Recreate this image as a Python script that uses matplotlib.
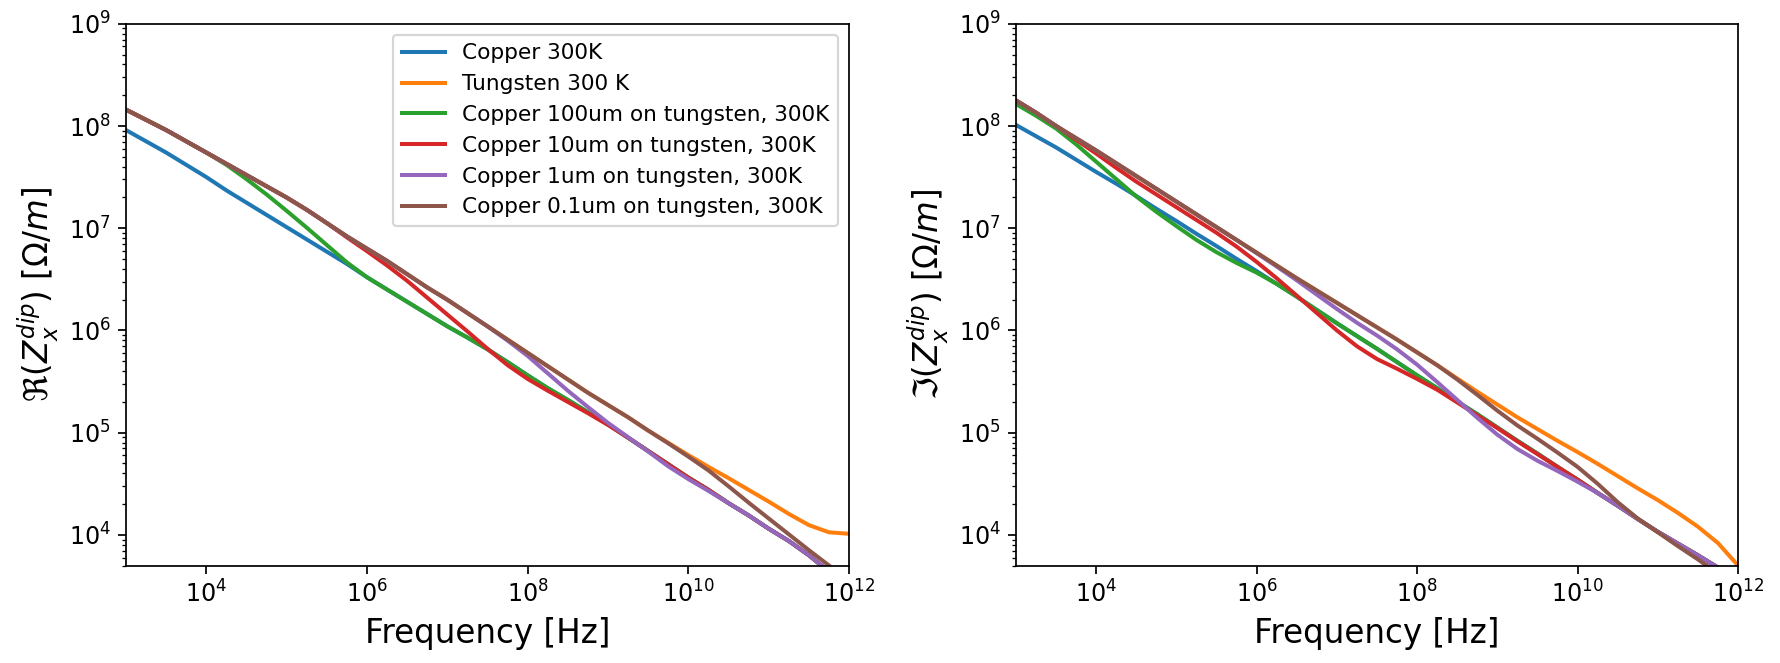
import numpy as np
import matplotlib
matplotlib.use("Agg")
import matplotlib.pyplot as plt
from matplotlib.ticker import NullLocator, FixedLocator

nan = np.nan

# frequency grid, log10(Hz)
freq_log10 = [3.00, 3.25, 3.50, 3.75, 4.00, 4.25, 4.50, 4.75, 5.00, 5.25,
              5.50, 5.75, 6.00, 6.25, 6.50, 6.75, 7.00, 7.25, 7.50, 7.75,
              8.00, 8.25, 8.50, 8.75, 9.00, 9.25, 9.50, 9.75, 10.00, 10.25,
              10.50, 10.75, 11.00, 11.25, 11.50, 11.75, 12.00]

labels = ["Copper 300K", "Tungsten 300 K", "Copper 100um on tungsten, 300K",
          "Copper 10um on tungsten, 300K", "Copper 1um on tungsten, 300K",
          "Copper 0.1um on tungsten, 300K"]

# ---- Real part, log10(Ohm/m) ----
re_cu = [7.96, 7.85, 7.74, 7.62, 7.50, 7.37, 7.25, 7.13, 7.01, 6.89,
         6.77, 6.65, 6.52, 6.40, 6.28, 6.16, 6.04, 5.93, 5.815, 5.69,
         5.56, 5.435, 5.32, 5.20, 5.08, 4.95, 4.82, 4.69, 4.56, 4.44,
         4.31, 4.19, 4.06, 3.94, 3.80, 3.64, nan]
re_w = [8.16, 8.06, 7.96, 7.85, 7.74, 7.63, 7.52, 7.41, 7.30, 7.18,
        7.05, 6.92, 6.80, 6.68, 6.55, 6.42, 6.30, 6.17, 6.04, 5.91,
        5.78, 5.65, 5.52, 5.39, 5.27, 5.15, 5.02, 4.90, 4.78, 4.665,
        4.555, 4.44, 4.325, 4.205, 4.095, 4.025, 4.01]
re_cu100 = [8.16, 8.06, 7.96, 7.85, 7.74, 7.62, 7.48, 7.33, 7.17, 7.005,
            6.835, 6.665, 6.52, 6.40, 6.28, 6.16, 6.04, 5.93, 5.815, 5.69,
            5.56, 5.435, 5.32, 5.20, 5.08, 4.95, 4.82, 4.69, 4.56, 4.44,
            4.31, 4.19, 4.06, 3.94, 3.80, 3.64, nan]
re_cu10 = [8.16, 8.06, 7.96, 7.85, 7.74, 7.63, 7.52, 7.41, 7.30, 7.18,
           7.05, 6.91, 6.775, 6.635, 6.485, 6.32, 6.155, 5.99, 5.82, 5.66,
           5.525, 5.41, 5.30, 5.19, 5.075, 4.95, 4.82, 4.69, 4.56, 4.44,
           4.31, 4.19, 4.06, 3.94, 3.80, 3.64, nan]
re_cu1 = [8.16, 8.06, 7.96, 7.85, 7.74, 7.63, 7.52, 7.41, 7.30, 7.18,
          7.05, 6.92, 6.80, 6.68, 6.55, 6.42, 6.30, 6.17, 6.04, 5.90,
          5.75, 5.58, 5.41, 5.25, 5.095, 4.955, 4.815, 4.67, 4.545, 4.43,
          4.31, 4.19, 4.06, 3.94, 3.80, 3.64, nan]
re_cu01 = [8.16, 8.06, 7.96, 7.85, 7.74, 7.63, 7.52, 7.41, 7.30, 7.18,
           7.05, 6.92, 6.80, 6.68, 6.55, 6.42, 6.30, 6.17, 6.04, 5.91,
           5.78, 5.65, 5.52, 5.39, 5.27, 5.15, 5.02, 4.895, 4.765, 4.63,
           4.475, 4.315, 4.16, 4.005, 3.85, 3.70, nan]

# ---- Imaginary part, log10(Ohm/m) ----
im_cu = [8.01, 7.90, 7.79, 7.67, 7.55, 7.435, 7.315, 7.19, 7.07, 6.945,
         6.825, 6.70, 6.58, 6.455, 6.33, 6.20, 6.07, 5.945, 5.82, 5.69,
         5.56, 5.435, 5.305, 5.18, 5.05, 4.92, 4.795, 4.665, 4.54, 4.41,
         4.285, 4.155, 4.03, 3.915, 3.80, 3.68, nan]
im_w = [8.25, 8.13, 8.00, 7.88, 7.76, 7.635, 7.51, 7.385, 7.26, 7.135,
        7.01, 6.885, 6.76, 6.635, 6.51, 6.39, 6.27, 6.15, 6.03, 5.91,
        5.785, 5.66, 5.53, 5.40, 5.275, 5.15, 5.035, 4.92, 4.81, 4.695,
        4.575, 4.455, 4.34, 4.215, 4.08, 3.92, 3.70]
im_cu100 = [8.215, 8.10, 7.975, 7.82, 7.65, 7.48, 7.31, 7.16, 7.02, 6.885,
            6.765, 6.66, 6.565, 6.455, 6.33, 6.20, 6.07, 5.945, 5.82, 5.69,
            5.56, 5.435, 5.305, 5.18, 5.05, 4.92, 4.795, 4.665, 4.54, 4.41,
            4.285, 4.155, 4.03, 3.915, 3.80, 3.68, nan]
im_cu10 = [8.25, 8.13, 8.00, 7.865, 7.73, 7.59, 7.455, 7.33, 7.205, 7.08,
           6.955, 6.82, 6.67, 6.51, 6.34, 6.17, 6.00, 5.845, 5.72, 5.625,
           5.525, 5.42, 5.295, 5.17, 5.045, 4.915, 4.79, 4.665, 4.54, 4.41,
           4.285, 4.155, 4.03, 3.915, 3.80, 3.68, nan]
im_cu1 = [8.25, 8.13, 8.00, 7.88, 7.76, 7.635, 7.51, 7.385, 7.26, 7.135,
          7.01, 6.885, 6.755, 6.625, 6.49, 6.35, 6.21, 6.075, 5.95, 5.815,
          5.665, 5.495, 5.32, 5.145, 4.98, 4.84, 4.725, 4.625, 4.52, 4.41,
          4.285, 4.155, 4.03, 3.915, 3.80, 3.68, nan]
im_cu01 = [8.25, 8.13, 8.00, 7.88, 7.76, 7.635, 7.51, 7.385, 7.26, 7.135,
           7.01, 6.885, 6.76, 6.635, 6.51, 6.39, 6.27, 6.15, 6.03, 5.91,
           5.785, 5.66, 5.52, 5.37, 5.215, 5.07, 4.94, 4.805, 4.665, 4.50,
           4.32, 4.16, 4.025, 3.89, 3.76, 3.62, nan]

real_series = [re_cu, re_w, re_cu100, re_cu10, re_cu1, re_cu01]
imag_series = [im_cu, im_w, im_cu100, im_cu10, im_cu1, im_cu01]
colors = ["C0", "C1", "C2", "C3", "C4", "C5"]

xticks = [1e4, 1e6, 1e8, 1e10, 1e12]

DPI = 156
fig = plt.figure(figsize=(1780 / DPI, 663 / DPI), dpi=DPI)
ax1 = fig.add_axes([0.0708, 0.1469, 0.4062, 0.8172])
ax2 = fig.add_axes([0.5708, 0.1469, 0.4056, 0.8172])

freq = 10 ** np.array(freq_log10)

for ax, series, ylab in [(ax1, real_series, r"$\Re(Z_x^{dip})$ [$\Omega/m$]"),
                         (ax2, imag_series, r"$\Im(Z_x^{dip})$ [$\Omega/m$]")]:
    for s, c, lab in zip(series, colors, labels):
        ax.plot(freq, 10 ** np.array(s, dtype=float), color=c, lw=1.85,
                label=lab, solid_joinstyle="round")
    ax.set_xscale("log")
    ax.set_yscale("log")
    ax.set_xlim(1e3, 1e12)
    ax.set_ylim(5e3, 1e9)
    ax.xaxis.set_major_locator(FixedLocator(xticks))
    ax.xaxis.set_minor_locator(NullLocator())
    ax.tick_params(axis="both", which="major", labelsize=11)
    ax.set_xlabel("Frequency [Hz]", fontsize=15)
    ax.set_ylabel(ylab, fontsize=15)

ax1.legend(loc="upper right", fontsize=10)

fig.savefig("out.png", dpi=DPI)
